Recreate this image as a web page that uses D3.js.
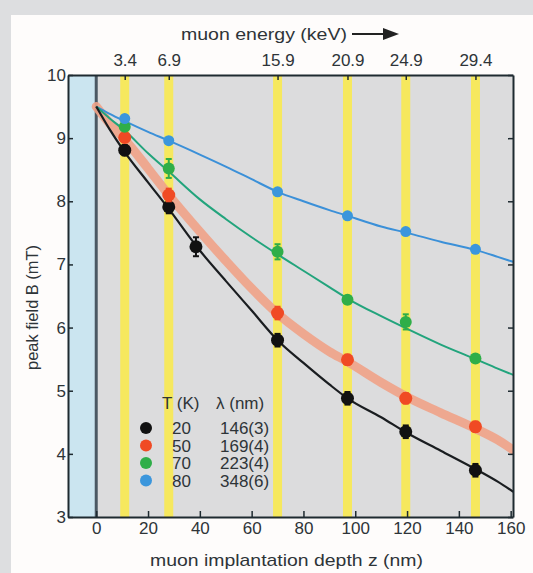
<!DOCTYPE html>
<html><head><meta charset="utf-8">
<script src="https://cdn.jsdelivr.net/npm/d3@7"></script>
<style>html,body{margin:0;padding:0;background:#dddee0;}svg{display:block;}</style>
</head><body>
<script>
// ---- data ----
const bandDepths = [11, 28, 70, 97, 119.5, 146.4];
const bandEnergies = ["3.4", "6.9", "15.9", "20.9", "24.9", "29.4"];
const xTicks = [0, 20, 40, 60, 80, 100, 120, 140, 160];
const yTicks = [3, 4, 5, 6, 7, 8, 9, 10];
const temps = ["20", "50", "70", "80"];
const lambdas = ["146(3)", "169(4)", "223(4)", "348(6)"];
const seriesColors = ["#111111", "#f04a24", "#2fae48", "#3b96dc"];

// measured points: [depth, B, error]
const pts20 = [[11, 8.81, 0.08], [28, 7.91, 0.1], [38.5, 7.28, 0.15], [70, 5.80, 0.1], [97, 4.88, 0.1], [119.5, 4.35, 0.1], [146.4, 3.74, 0.1]];
const pts50 = [[11, 9.01, 0.05], [28, 8.10, 0.1], [70, 6.23, 0.1], [97, 5.49, 0.08], [119.5, 4.88, 0.08], [146.4, 4.43, 0.08]];
const pts70 = [[11, 9.18, 0.05], [28, 8.52, 0.15], [70, 7.20, 0.12], [97, 6.44, 0.06], [119.5, 6.09, 0.12], [146.4, 5.51, 0.05]];
const pts80 = [[11, 9.31, 0.05], [28, 8.96, 0.04], [70, 8.15, 0.04], [97, 7.77, 0.04], [119.5, 7.52, 0.04], [146.4, 7.24, 0.04]];

// model curves
const curveDepths = [0, 5, 11, 20, 28, 40, 50, 60, 70, 80, 90, 97, 110, 120, 133, 146.4, 155, 161];
const curve20 = [9.5, 9.15, 8.78, 8.30, 7.88, 7.22, 6.74, 6.27, 5.80, 5.44, 5.10, 4.88, 4.58, 4.33, 4.05, 3.76, 3.56, 3.40];
const curve50 = [9.5, 9.24, 8.98, 8.52, 8.10, 7.52, 7.06, 6.62, 6.22, 5.90, 5.62, 5.46, 5.13, 4.90, 4.65, 4.40, 4.22, 4.06];
const curve70 = [9.5, 9.32, 9.12, 8.76, 8.47, 8.03, 7.72, 7.43, 7.16, 6.90, 6.64, 6.46, 6.18, 5.98, 5.73, 5.50, 5.35, 5.25];
const curve80 = [9.5, 9.39, 9.27, 9.10, 8.96, 8.74, 8.55, 8.35, 8.15, 8.00, 7.86, 7.77, 7.60, 7.50, 7.36, 7.23, 7.12, 7.04];

// ---- drawing ----
const W = 533, H = 573;
const L = 68, R = 513, T = 75, B = 517;
const font = "'Liberation Sans', Arial, sans-serif";
const txt = "#2e3438";
const fs = 17;

const svg = d3.select("body").append("svg").attr("width", W).attr("height", H);
svg.append("rect").attr("x", 11).attr("y", 15).attr("width", W - 11).attr("height", H - 15).attr("fill", "#fefcfb");

const x = d3.scaleLinear().domain([-10.9, 160.9]).range([L, R]);
const y = d3.scaleLinear().domain([3, 10]).range([B, T]);

const defs = svg.append("defs");
defs.append("clipPath").attr("id", "clip").append("rect")
  .attr("x", L).attr("y", T).attr("width", R - L).attr("height", B - T);

const plot = svg.append("g").attr("clip-path", "url(#clip)");
plot.append("rect").attr("x", L).attr("y", T).attr("width", R - L).attr("height", B - T).attr("fill", "#dcdcdd");
plot.append("rect").attr("x", L).attr("y", T).attr("width", x(0) - L).attr("height", B - T).attr("fill", "#cbe5f0");

// yellow bands
plot.selectAll("rect.band").data(bandDepths).enter().append("rect")
  .attr("class", "band")
  .attr("x", d => x(d) - 4.5).attr("y", T).attr("width", 9).attr("height", B - T)
  .attr("fill", "#f6e85e");

// depth 0 line
plot.append("line").attr("x1", x(0)).attr("x2", x(0)).attr("y1", T).attr("y2", B)
  .attr("stroke", "#4b5863").attr("stroke-width", 3);

const line = d3.line().x(d => x(d[0])).y(d => y(d[1])).curve(d3.curveMonotoneX);
const mk = c => curveDepths.map((d, i) => [d, c[i]]);

plot.append("path").attr("d", line(mk(curve50))).attr("fill", "none")
  .attr("stroke", "#f0a287").attr("stroke-opacity", 0.9).attr("stroke-width", 9).attr("stroke-linecap", "round");
plot.append("path").attr("d", line(mk(curve80))).attr("fill", "none")
  .attr("stroke", "#3b90d8").attr("stroke-width", 2);
plot.append("path").attr("d", line(mk(curve70))).attr("fill", "none")
  .attr("stroke", "#22a47c").attr("stroke-width", 2);
plot.append("path").attr("d", line(mk(curve20))).attr("fill", "none")
  .attr("stroke", "#1a1d20").attr("stroke-width", 2.2);

// points with error bars
const allPts = [pts20, pts50, pts70, pts80];
const radii = [6.5, 6.5, 6, 5.5];
allPts.forEach((pts, si) => {
  const g = plot.append("g");
  const col = seriesColors[si];
  pts.forEach(p => {
    const cx = x(p[0]), ylo = y(p[1] - p[2]), yhi = y(p[1] + p[2]);
    g.append("line").attr("x1", cx).attr("x2", cx).attr("y1", ylo).attr("y2", yhi).attr("stroke", col).attr("stroke-width", 2);
    g.append("line").attr("x1", cx - 3).attr("x2", cx + 3).attr("y1", ylo).attr("y2", ylo).attr("stroke", col).attr("stroke-width", 2);
    g.append("line").attr("x1", cx - 3).attr("x2", cx + 3).attr("y1", yhi).attr("y2", yhi).attr("stroke", col).attr("stroke-width", 2);
    g.append("circle").attr("cx", cx).attr("cy", y(p[1])).attr("r", radii[si]).attr("fill", col);
  });
});

// axes (inward ticks)
const axStyle = g => {
  g.selectAll("path.domain").attr("stroke", "#1e2a30").attr("stroke-width", 2);
  g.selectAll(".tick line").attr("stroke", "#1e2a30").attr("stroke-width", 1.5);
  g.selectAll("text").attr("font-family", font).attr("font-size", fs).attr("fill", txt);
};
const xb = svg.append("g").attr("transform", `translate(0,${B})`)
  .call(d3.axisBottom(x).tickValues(xTicks).tickSizeInner(-6).tickSizeOuter(0).tickPadding(5).tickFormat(d3.format("d")));
axStyle(xb);
const yl = svg.append("g").attr("transform", `translate(${L},0)`)
  .call(d3.axisLeft(y).tickValues(yTicks).tickSizeInner(-5).tickSizeOuter(0).tickPadding(2).tickFormat(d3.format("d")));
axStyle(yl);
const yr = svg.append("g").attr("transform", `translate(${R},0)`)
  .call(d3.axisRight(y).tickValues(yTicks).tickSizeInner(-5).tickSizeOuter(0).tickFormat(""));
axStyle(yr);
const xt = svg.append("g").attr("transform", `translate(0,${T})`)
  .call(d3.axisTop(x).tickValues(bandDepths).tickSizeInner(-5).tickSizeOuter(0).tickPadding(9).tickFormat((d, i) => bandEnergies[i]));
axStyle(xt);

// titles
svg.append("text").attr("x", 181).attr("y", 40).attr("font-family", font).attr("font-size", fs).attr("fill", txt)
  .attr("textLength", 166).attr("lengthAdjust", "spacingAndGlyphs").text("muon energy (keV)");
svg.append("line").attr("x1", 352).attr("x2", 385).attr("y1", 34).attr("y2", 34).attr("stroke", "#222").attr("stroke-width", 2.2);
svg.append("path").attr("d", "M383,28 L399,34 L383,40 Z").attr("fill", "#222");

svg.append("text").attr("x", 150).attr("y", 566).attr("font-family", font).attr("font-size", fs).attr("fill", txt)
  .attr("textLength", 273).attr("lengthAdjust", "spacingAndGlyphs").text("muon implantation depth z (nm)");
svg.append("text").attr("transform", "translate(38,370) rotate(-90)")
  .attr("font-family", font).attr("font-size", fs).attr("fill", txt)
  .attr("textLength", 125).attr("lengthAdjust", "spacingAndGlyphs").text("peak field B (mT)");

// legend
const lg = svg.append("g").attr("font-family", font).attr("font-size", fs).attr("fill", txt);
lg.append("text").attr("x", 162).attr("y", 409).text("T (K)");
lg.append("text").attr("x", 216).attr("y", 409).text("λ (nm)");
temps.forEach((t, i) => {
  const yy = 428 + i * 17.5;
  lg.append("circle").attr("cx", 146).attr("cy", yy).attr("r", 6).attr("fill", seriesColors[i]);
  lg.append("text").attr("x", 172).attr("y", yy + 6).text(t);
  lg.append("text").attr("x", 220).attr("y", yy + 6).text(lambdas[i]);
});
</script>
</body></html>
